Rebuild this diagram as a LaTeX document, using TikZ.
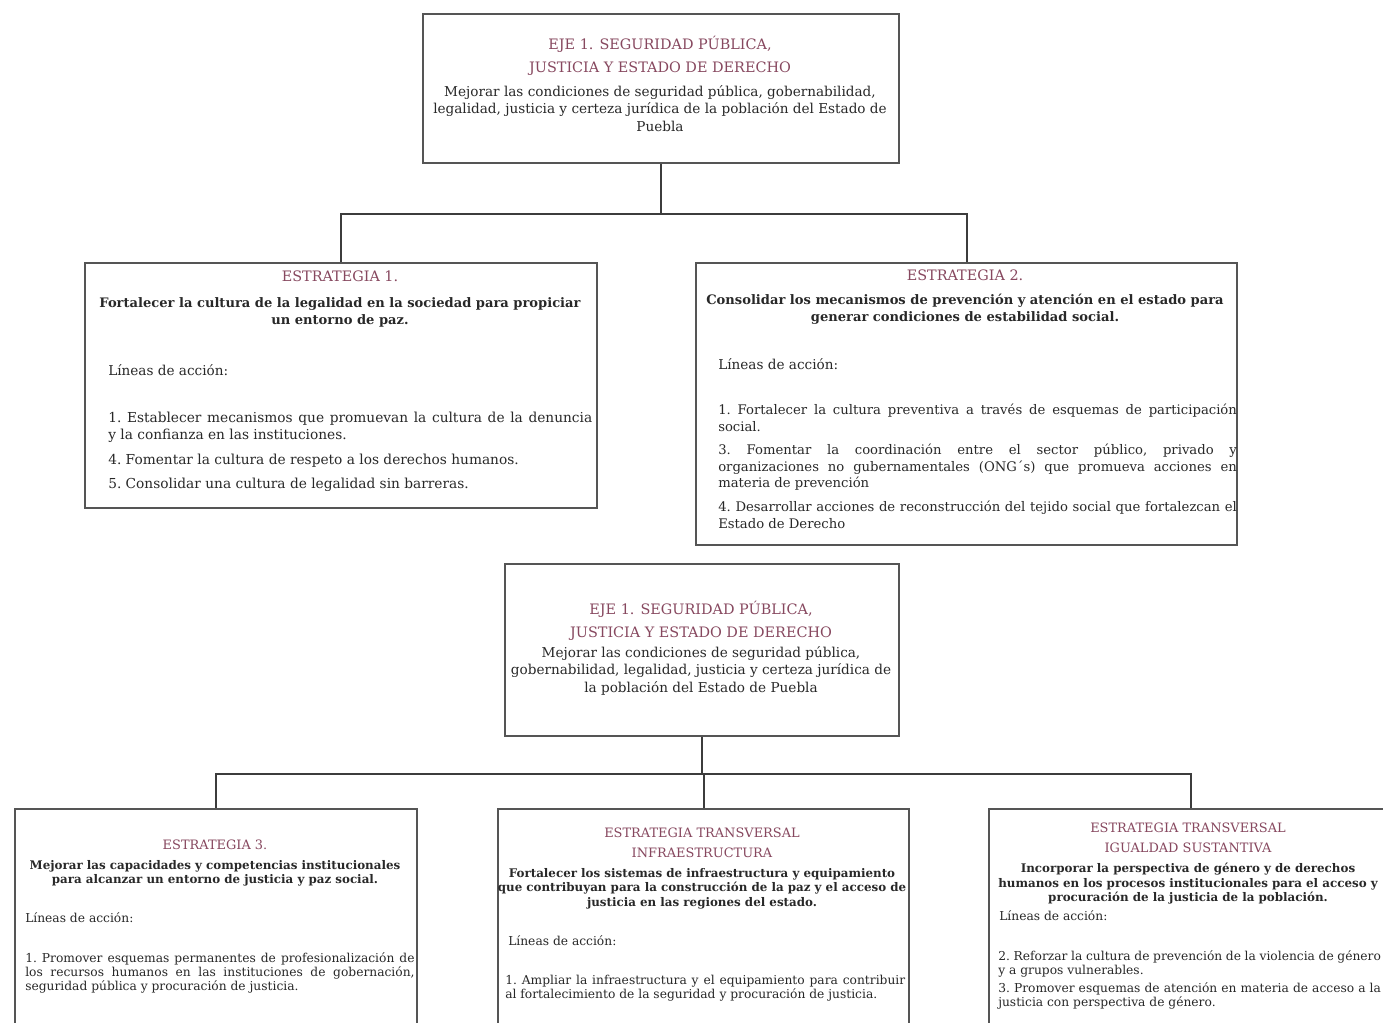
\documentclass[tikz,border=0pt]{standalone}
\usepackage{fontspec}
\setmainfont{DejaVu Serif}
\usetikzlibrary{positioning}

\definecolor{ejered}{RGB}{135,72,95}
\definecolor{boxgray}{RGB}{85,85,85}
\definecolor{linkgray}{RGB}{60,60,60}
\definecolor{bodytext}{RGB}{40,40,40}

\newcommand{\nohyph}{\frenchspacing\hyphenpenalty=10000\exhyphenpenalty=10000\hbadness=10000\hfuzz=20pt}

\tikzset{
  box/.style={draw=boxgray, line width=1.5pt, anchor=north west, inner sep=0pt},
  link/.style={draw=linkgray, line width=1.5pt},
  ttl/.style={text=ejered, align=center, inner sep=0pt, anchor=north, font=\fontsize{10.8}{17.2}\selectfont},
  txt/.style={text=bodytext, align=center, inner sep=0pt, anchor=north, font=\fontsize{10.2}{13.1}\selectfont},
  goal/.style={txt, font=\fontsize{9.8}{12.8}\selectfont\bfseries},
  lead/.style={text=bodytext, inner sep=0pt, anchor=west, font=\fontsize{10.2}{13}\selectfont},
  item/.style={text=bodytext, align=justify, inner sep=0pt, anchor=north west, font=\fontsize{10.3}{12.8}\selectfont\nohyph},
  nitem/.style={item, font=\fontsize{9.9}{12.2}\selectfont\nohyph},
  % smaller lettering for the lower row
  sttl/.style={ttl, font=\fontsize{9.7}{15}\selectfont},
  stxt/.style={txt, font=\fontsize{9.2}{11}\selectfont},
  sgoal/.style={txt, font=\fontsize{8.9}{10.9}\selectfont\bfseries},
  slead/.style={lead, font=\fontsize{9.2}{11}\selectfont},
  sitem/.style={item, font=\fontsize{9.2}{10.5}\selectfont\nohyph}
}

\begin{document}
\begin{tikzpicture}[x=0.75pt,y=-0.75pt]
  \clip (0,0) rectangle (1383,1022);
  \fill[white] (0,0) rectangle (1383,1022);

  % --- upper tree: eje and two strategies ---
  \node[box, minimum width=357pt, minimum height=111.75pt] (eje) at (422,13) {};
  \node[box, minimum width=384pt, minimum height=183.75pt] (est1) at (84,262) {};
  \node[box, minimum width=405.75pt, minimum height=211.5pt] (est2) at (695,262) {};

  \draw[link] (eje.south) -- ++(0,50) -| (est1.north);
  \draw[link] (eje.south) -- ++(0,50) -| (est2.north);

  \node[ttl] (ejettl) at (660,36) {EJE 1. SEGURIDAD PÚBLICA,\\JUSTICIA Y ESTADO DE DERECHO};
  \node[txt] (ejeobj) at (660,85) {Mejorar las condiciones de seguridad pública, gobernabilidad,\\legalidad, justicia y certeza jurídica de la población del Estado de\\Puebla};

  % strategy 1
  \node[ttl] (est1ttl) at (340,271) {ESTRATEGIA 1.};
  \node[goal] (est1obj) at (340,297) {Fortalecer la cultura de la legalidad en la sociedad para propiciar\\un entorno de paz.};
  \node[lead] (est1lin) at (108,370) {Líneas de acción:};
  \node[item, text width=363pt] (est1a) at (108,412) {1. Establecer mecanismos que promuevan la cultura de la denuncia\linebreak y la confianza en las instituciones.};
  \node[item, text width=363pt] (est1b) at (108,454) {4. Fomentar la cultura de respeto a los derechos humanos.};
  \node[item, text width=363pt] (est1c) at (108,478) {5. Consolidar una cultura de legalidad sin barreras.};

  % strategy 2
  \node[ttl] (est2ttl) at (965,270) {ESTRATEGIA 2.};
  \node[goal] (est2obj) at (965,294) {Consolidar los mecanismos de prevención y atención en el estado para\\generar condiciones de estabilidad social.};
  \node[lead] (est2lin) at (718,364) {Líneas de acción:};
  \node[nitem, text width=389pt] (est2a) at (718,404) {1. Fortalecer la cultura preventiva a través de esquemas de participación\linebreak social.};
  \node[nitem, text width=389pt] (est2b) at (718,444) {3. Fomentar la coordinación entre el sector público, privado y\linebreak organizaciones no gubernamentales (ONG´s) que promueva acciones en\linebreak materia de prevención};
  \node[nitem, text width=389pt] (est2c) at (718,501) {4. Desarrollar acciones de reconstrucción del tejido social que fortalezcan el\linebreak Estado de Derecho};

  % --- lower tree: eje and three strategies ---
  \node[box, minimum width=295.5pt, minimum height=129pt] (eje2) at (504,563) {};
  \node[box, minimum width=301.5pt, minimum height=180pt] (est3) at (14,808) {};
  \node[box, minimum width=308.25pt, minimum height=180pt] (infra) at (497,808) {};
  \node[box, minimum width=303pt, minimum height=180pt] (igual) at (988,808) {};

  \draw[link] (eje2.south) -- ++(0,37) -| (est3.north);
  \draw[link] (eje2.south) -- ++(0,37) -| (infra.north);
  \draw[link] (eje2.south) -- ++(0,37) -| (igual.north);

  \node[ttl] (eje2ttl) at (701,601) {EJE 1. SEGURIDAD PÚBLICA,\\JUSTICIA Y ESTADO DE DERECHO};
  \node[txt] (eje2obj) at (701,646) {Mejorar las condiciones de seguridad pública,\\gobernabilidad, legalidad, justicia y certeza jurídica de\\la población del Estado de Puebla};

  % strategy 3
  \node[sttl] (est3ttl) at (215,840) {ESTRATEGIA 3.};
  \node[sgoal] (est3obj) at (215,860) {Mejorar las capacidades y competencias institucionales\\para alcanzar un entorno de justicia y paz social.};
  \node[slead] (est3lin) at (25,918) {Líneas de acción:};
  \node[sitem, text width=292pt] (est3a) at (25,952) {1. Promover esquemas permanentes de profesionalización de los recursos humanos en las instituciones de gobernación, seguridad pública y procuración de justicia.};

  % transversal infraestructura
  \node[sttl] (infrattl) at (702,828) {ESTRATEGIA TRANSVERSAL\\INFRAESTRUCTURA};
  \node[sgoal] (infraobj) at (702,868) {Fortalecer los sistemas de infraestructura y equipamiento\\que contribuyan para la construcción de la paz y el acceso de\\justicia en las regiones del estado.};
  \node[slead] (infralin) at (508,941) {Líneas de acción:};
  \node[sitem, text width=300pt] (infraa) at (505,975) {1. Ampliar la infraestructura y el equipamiento para contribuir al fortalecimiento de la seguridad y procuración de justicia.};

  % transversal igualdad
  \node[sttl] (igualttl) at (1188,823) {ESTRATEGIA TRANSVERSAL\\IGUALDAD SUSTANTIVA};
  \node[sgoal] (igualobj) at (1188,863) {Incorporar la perspectiva de género y de derechos\\humanos en los procesos institucionales para el acceso y\\procuración de la justicia de la población.};
  \node[slead] (iguallin) at (999,916) {Líneas de acción:};
  \node[sitem, text width=287pt] (iguala) at (998,950) {2. Reforzar la cultura de prevención de la violencia de género y a grupos vulnerables.};
  \node[sitem, text width=287pt] (igualb) at (998,982) {3. Promover esquemas de atención en materia de acceso a la justicia con perspectiva de género.};
\end{tikzpicture}
\end{document}
